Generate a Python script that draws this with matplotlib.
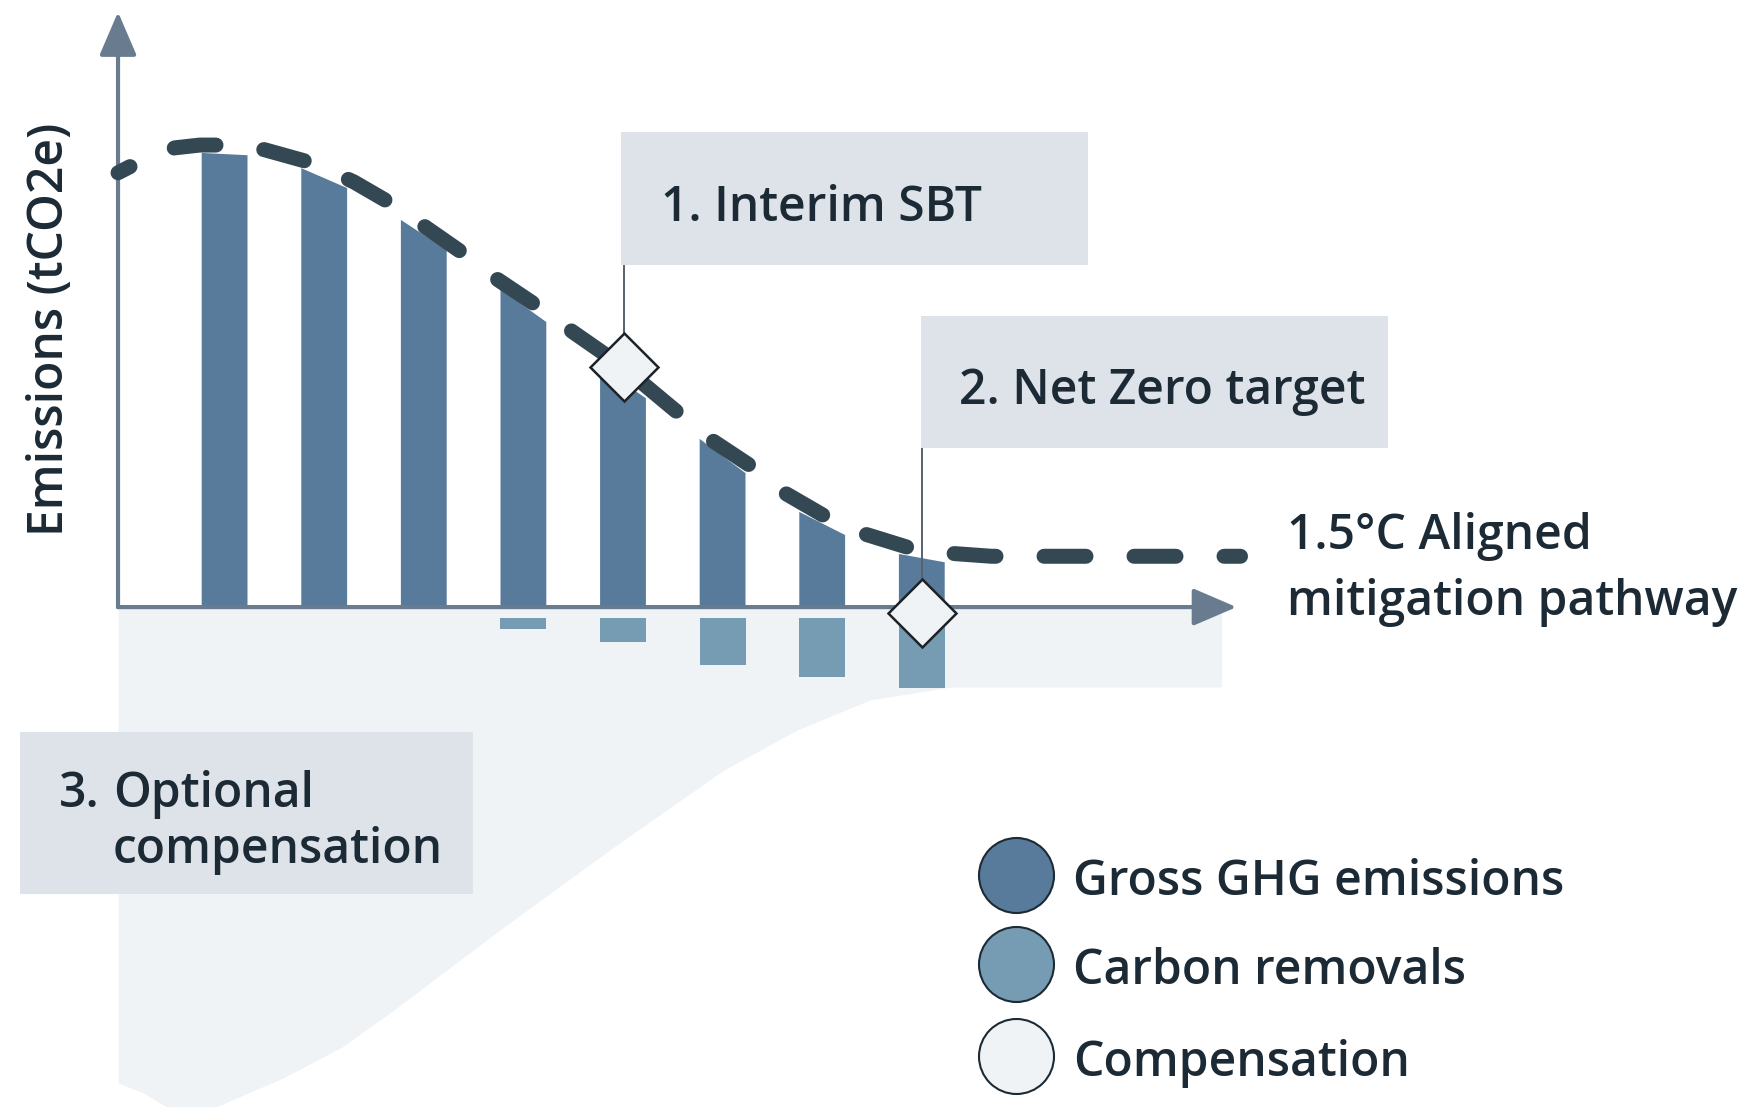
import numpy as np
import matplotlib.pyplot as plt

plt.rcParams['font.family'] = ['Open Sans', 'Noto Sans', 'DejaVu Sans']

# Datos (unidades arbitrarias, pico = 100)
anios = [1, 2, 3, 4, 5, 6, 7, 8]
emis_izq = [98.3, 95.0, 83.8, 68.8, 52.0, 36.4, 20.6, 11.5]   # borde superior izquierdo de cada barra
emis_der = [97.8, 90.7, 77.3, 61.7, 45.2, 29.0, 15.6, 9.7]    # borde superior derecho
anios_rem = [4, 5, 6, 7, 8]
remociones = [2.4, 5.2, 10.2, 12.8, 15.1]
hueco_rem = 2.4

tray_x = [-0.07, 0.2, 0.5, 0.75, 1.0, 1.4, 1.9, 2.3, 2.7, 3.0, 3.4, 3.7, 4.15, 4.5,
          5.0, 5.5, 5.9, 6.3, 6.6, 7.0, 7.4, 7.85, 8.25, 8.7, 9.1, 11.2]
tray_y = [94.0, 97.0, 99.4, 100.0, 100.0, 99.0, 96.0, 92.0, 87.0, 82.5, 76.5, 71.5, 65.0, 59.5,
          52.0, 43.0, 36.0, 30.3, 25.0, 20.0, 16.0, 13.0, 11.7, 11.0, 11.0, 11.0]

comp_x = [-0.07, 0.19, 0.63, 1.07, 1.59, 2.18, 2.70, 3.80, 4.91, 6.01, 6.75, 7.48, 8.29, 11.01]
comp_inf = [-103.0, -105.2, -111.0, -106.7, -101.9, -95.2, -87.2, -69.3, -51.9, -35.3,
            -26.6, -20.1, -17.3, -17.3]

hito_sbt = (5.01, 51.9)
hito_nz = (8.0, -1.2)

etiquetas = ['Gross GHG emissions', 'Carbon removals', 'Compensation']

# colores
c_bruto = '#587A9B'
c_rem = '#769CB3'
c_comp = '#EFF3F6'
c_caja = '#DEE3EA'
c_linea = '#344854'
c_texto = '#1C2A35'
c_eje = '#687B8F'

fig = plt.figure(figsize=(17.44, 11.07), dpi=100)
ax = fig.add_axes([0, 0, 1, 1])
ax.set_xlim(-1.255, 16.255)
ax.set_ylim(-108.2, 131.4)
ax.axis('off')

# zona de compensacion
ax.fill_between(comp_x, comp_inf, 0, color=c_comp, lw=0, zorder=1)

# barras de emisiones brutas (con el borde superior inclinado)
w = 0.46
for x, a, b in zip(anios, emis_izq, emis_der):
    ax.fill([x - w/2, x - w/2, x + w/2, x + w/2], [0, a, b, 0], color=c_bruto, lw=0, zorder=2)

# remociones de carbono
ax.bar(anios_rem, [-r for r in remociones], bottom=-hueco_rem, width=w, color=c_rem, zorder=2)

# ejes con flecha
estilo = dict(arrowstyle='-|>,head_length=1.35,head_width=0.58', lw=3, color=c_eje,
              mutation_scale=20, shrinkA=0, shrinkB=0)
ax.annotate('', xy=(-0.07, 128.8), xytext=(-0.07, 0), arrowprops=estilo, zorder=3)
ax.annotate('', xy=(11.16, 0), xytext=(-0.07, 0), arrowprops=estilo, zorder=3)

# trayectoria 1.5C
ax.plot(tray_x, tray_y, color=c_linea, lw=10.8, linestyle=(1.9, (2.8, 3.2)),
        dash_capstyle='round', zorder=4)

# cajas de texto
ax.add_patch(plt.Rectangle((4.98, 74.0), 4.69, 28.8, color=c_caja, lw=0, zorder=5))
ax.add_patch(plt.Rectangle((7.99, 34.4), 4.69, 28.6, color=c_caja, lw=0, zorder=5))
ax.add_patch(plt.Rectangle((-1.054, -62.1), 4.548, 35.0, color=c_caja, lw=0, zorder=5))

# lineas guia y rombos
ax.plot([hito_sbt[0], hito_sbt[0]], [73.8, hito_sbt[1]], color='#56616B', lw=1.4, zorder=5)
ax.plot([hito_nz[0], hito_nz[0]], [34.2, hito_nz[1]], color='#56616B', lw=1.4, zorder=5)
ax.plot(*hito_sbt, marker='D', ms=34.5, mfc='#F0F3F6', mec='#1C2228', mew=1.8, zorder=6)
ax.plot(*hito_nz, marker='D', ms=34.5, mfc='#F0F3F6', mec='#1C2228', mew=1.8, zorder=6)

fs = 34.6
txt = dict(color=c_texto, fontsize=fs, fontweight='semibold', va='baseline', ha='left', zorder=7)
ax.text(5.38, 83.5, '1. Interim SBT', **txt)
ax.text(8.37, 43.9, '2. Net Zero target', **txt)
ax.text(11.67, 12.55, '1.5°C Aligned', **txt)
ax.text(11.67, -1.73, 'mitigation pathway', **txt)
ax.text(-0.663, -43.2, '3.', **txt)
ax.text(-0.12, -43.2, 'Optional', **txt)
ax.text(-0.12, -55.4, 'compensation', **txt)

ax.text(-0.743, 60.2, 'Emissions (tCO2e)', color=c_texto, fontsize=fs, fontweight='semibold',
        rotation=90, ha='center', va='center')

# leyenda
ley_y = [-58.0, -77.3, -97.2]
for lab, col, y in zip(etiquetas, [c_bruto, c_rem, c_comp], ley_y):
    ax.plot(8.95, y, marker='o', ms=54, mfc=col, mec=c_texto, mew=1.5, zorder=6)
    ax.text(9.52, y - 4.3, lab, **txt)

plt.savefig('out.png', dpi=100)
